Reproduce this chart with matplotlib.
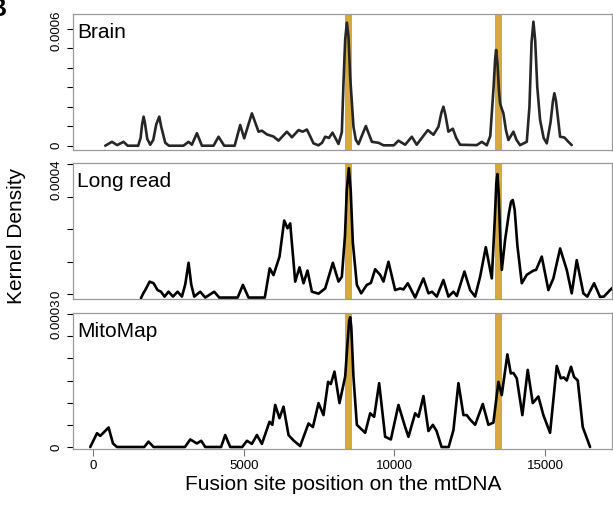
import matplotlib
matplotlib.use("Agg")
import matplotlib.pyplot as plt
import matplotlib.transforms as mtransforms
import numpy as np

plt.rcParams['font.family'] = ['Liberation Sans', 'DejaVu Sans']

# ---------------- data (density values in units of 1e-4) ----------------
brain_x = [408, 630, 800, 1015, 1150, 1500, 1580, 1630, 1679, 1730, 1800, 1900, 2000, 2100, 2199,
           2260, 2397, 2520, 3000, 3171, 3280, 3448, 3614, 4000, 4165, 4354, 4700, 4884, 5017,
           5272, 5492, 5604, 5770, 5989, 6155, 6433, 6599, 6818, 6960, 7096, 7200, 7316, 7480,
           7600, 7703, 7830, 7946, 8040, 8145, 8256, 8310, 8366, 8422, 8477, 8532, 8642, 8720,
           8808, 9052, 9252, 9471, 9640, 9980, 10134, 10356, 10578, 10740, 10860, 11108, 11294,
           11460, 11560, 11626, 11690, 11792, 11938, 12050, 12180, 12733, 12899, 13065, 13180,
           13290, 13340, 13374, 13420, 13470, 13506, 13560, 13616, 13700, 13782, 13948, 14050,
           14169, 14391, 14480, 14550, 14612, 14670, 14740, 14833, 14950, 15055, 15180, 15260,
           15308, 15360, 15497, 15640, 15772, 15883]
brain_y = [0, 0.2, 0.03, 0.2, 0, 0, 0.4, 1.1, 1.49, 1.1, 0.35, 0.05, 0.3, 1.1, 1.49,
           1.0, 0.15, 0, 0, 0.2, 0.05, 0.64, 0, 0, 0.46, 0, 0, 1.06, 0.38,
           1.66, 0.72, 0.77, 0.58, 0.47, 0.26, 0.72, 0.43, 0.8, 0.72, 0.83, 0.5, 0.12, 0.02,
           0.15, 0.46, 0.4, 0.67, 0.4, 0.09, 0.7, 3.2, 5.42, 6.31, 5.59, 3.54, 0.97, 0.3,
           0.08, 1.01, 0.2, 0.15, 0.02, 0.02, 0.26, 0.05, 0.46, 0.05, 0.3, 0.8, 0.56,
           0.97, 1.7, 2.0, 1.6, 0.72, 0.87, 0.4, 0.05, 0.03, 0.2, 0.02, 0.5,
           3.0, 4.4, 4.91, 4.2, 2.8, 2.17, 1.9, 1.66, 0.8, 0.29, 0.72, 0.3,
           0.03, 0.2, 2.0, 5.3, 6.36, 5.4, 3.0, 1.32, 0.4, 0.12, 1.2, 2.3,
           2.69, 2.3, 0.46, 0.42, 0.2, 0.03]

long_x = [1591, 1680, 1734, 1878, 2010, 2143, 2254, 2374, 2507, 2653, 2806, 2951, 3060, 3171,
          3260, 3359, 3558, 3724, 4022, 4188, 4800, 4974, 5160, 5700, 5863, 5989, 6188, 6344,
          6454, 6543, 6709, 6852, 6985, 7117, 7262, 7482, 7703, 7958, 8145, 8256, 8360, 8420,
          8488, 8550, 8620, 8754, 8897, 9086, 9220, 9361, 9527, 9637, 9803, 10024, 10190, 10300,
          10445, 10688, 10963, 11129, 11250, 11406, 11626, 11792, 11958, 12070, 12323, 12512,
          12678, 12843, 13032, 13231, 13330, 13380, 13417, 13460, 13520, 13563, 13672, 13800,
          13870, 13927, 13990, 14080, 14226, 14391, 14612, 14700, 14889, 15108, 15274, 15497,
          15718, 15883, 16049, 16269, 16400, 16624, 16823, 16950, 17154, 17232]
long_y = [-0.12, 0.05, 0.13, 0.39, 0.34, 0.13, 0.08, -0.07, 0.08, -0.07, 0.08, -0.07, 0.3, 0.97,
          0.3, -0.07, 0.08, -0.1, 0.08, -0.1, -0.1, 0.29, -0.1, -0.1, 0.8, 0.59, 1.16, 2.27,
          2.03, 2.18, 0.39, 0.83, 0.34, 0.73, 0.08, 0.02, 0.18, 0.97, 0.39, 0.54, 1.8, 3.2,
          3.88, 3.2, 1.6, 0.29, 0.03, 0.29, 0.35, 0.77, 0.6, 0.39, 1.0, 0.13, 0.18, 0.15,
          0.34, -0.1, 0.49, 0.03, 0.08, -0.07, 0.44, -0.07, 0.08, -0.05, 0.7, 0.13,
          -0.07, 0.54, 1.45, 0.49, 2.3, 3.4, 3.7, 3.1, 1.5, 0.75, 1.67, 2.5,
          2.85, 2.9, 2.6, 1.5, 0.34, 0.6, 0.73, 0.75, 1.16, 0.13, 0.49, 1.41,
          0.75, 0.03, 1.05, 0.03, -0.07, 0.34, -0.08, -0.07, 0.13, 0.2]

mito_x = [-90, 133, 242, 518, 663, 796, 1700, 1844, 2010, 3050, 3227, 3448, 3591, 3724, 4250,
          4387, 4553, 4950, 5107, 5272, 5438, 5604, 5856, 5950, 6045, 6188, 6321, 6487, 6650,
          6874, 7150, 7296, 7482, 7647, 7800, 7890, 8012, 8178, 8367, 8450, 8500, 8533, 8570,
          8640, 8754, 9030, 9196, 9328, 9494, 9693, 9882, 10134, 10356, 10466, 10688, 10800,
          10963, 11129, 11275, 11400, 11565, 11800, 11958, 12124, 12290, 12400, 12512, 12678,
          12932, 13119, 13284, 13450, 13561, 13748, 13861, 13948, 14059, 14245, 14423, 14590,
          14776, 14942, 15164, 15386, 15519, 15620, 15718, 15860, 15960, 16083, 16248, 16491]
mito_y = [0, 0.31, 0.25, 0.44, 0.08, 0, 0, 0.12, 0, 0, 0.17, 0.08, 0.14, 0, 0,
          0.27, 0, 0, 0.14, 0.07, 0.27, 0.07, 0.57, 0.5, 0.95, 0.65, 0.91, 0.27, 0.15,
          0.02, 0.53, 0.45, 0.99, 0.72, 1.47, 1.42, 1.7, 0.99, 1.59, 2.4, 2.85, 2.93, 2.7,
          1.6, 0.5, 0.32, 0.76, 0.68, 1.44, 0.23, 0.17, 0.95, 0.45, 0.23, 0.76, 0.68,
          1.15, 0.36, 0.5, 0.36, 0, 0, 0.38, 1.44, 0.72, 0.72, 0.62, 0.5,
          0.97, 0.5, 0.55, 1.47, 1.17, 2.09, 1.66, 1.67, 1.55, 0.72, 1.74, 0.99,
          1.14, 0.72, 0.32, 1.83, 1.55, 1.57, 1.5, 1.81, 1.58, 1.5, 0.45, 0]

panel_names = ["Brain", "Long read", "MitoMap"]
band_start = [8377, 13340]
band_end = [8587, 13560]
x_ticks = [0, 5000, 10000, 15000]
y_ticks = [[0, 1e-4, 2e-4, 3e-4, 4e-4, 5e-4, 6e-4],
           [0, 1e-4, 2e-4, 3e-4, 4e-4],
           [0, 0.5e-4, 1e-4, 1.5e-4, 2e-4, 2.5e-4, 3e-4]]
y_labeled = [["0", "", "", "", "", "", "0.0006"],
             ["0", "", "", "", "0.0004"],
             ["0", "", "", "", "", "", "0.0003"]]

# ---------------- figure ----------------
W, H = 613, 505
fig = plt.figure(figsize=(W / 100, H / 100), dpi=100)

boxes = [(14, 150), (163.3, 298.5), (312.7, 449.3)]
ylims = [(-0.22e-4, 6.754e-4), (-0.129e-4, 4.03e-4), (-0.052e-4, 3.03e-4)]
line_colors = ["#262626", "#000000", "#000000"]
label_shift_px = [2.5, 15, 5]
xs = [brain_x, long_x, mito_x]
ys = [brain_y, long_y, mito_y]

left_px, right_px = 73, 612.4
for i in range(3):
    top, bot = boxes[i]
    ax = fig.add_axes([left_px / W, 1 - bot / H, (right_px - left_px) / W, (bot - top) / H])
    for s, e in zip(band_start, band_end):
        ax.axvspan(s, e, color="#D4AA3E", lw=0, zorder=1)
    ax.plot(xs[i], np.array(ys[i]) * 1e-4, color=line_colors[i], lw=1.9,
            solid_joinstyle="round", solid_capstyle="round", zorder=3)
    ax.set_xlim(-663, 17232)
    ax.set_ylim(*ylims[i])
    for sp in ax.spines.values():
        sp.set_color("#9a9a9a")
        sp.set_linewidth(0.9)
    ax.set_yticks(y_ticks[i])
    ax.set_yticklabels(y_labeled[i], rotation=90, va="center", fontsize=9.5)
    ax.tick_params(axis="y", direction="out", length=4.5, width=0.8, color="black", pad=3)
    shift = mtransforms.ScaledTranslation(0, -label_shift_px[i] / 100, fig.dpi_scale_trans)
    lab = ax.get_yticklabels()[-1]
    lab.set_transform(lab.get_transform() + shift)
    if i == 2:
        ax.set_xticks(x_ticks)
        ax.set_xticklabels([str(t) for t in x_ticks], fontsize=9.5)
        ax.tick_params(axis="x", direction="out", length=5, width=0.8, color="#777777", pad=3)
        ax.set_xlabel("Fusion site position on the mtDNA", fontsize=15, labelpad=2)
    else:
        ax.set_xticks([])
    ax.text(0.007, 0.825, panel_names[i], transform=ax.transAxes, fontsize=15,
            ha="left", va="baseline")

fig.text(17 / W, 1 - 236 / H, "Kernel Density", rotation=90, fontsize=15,
         ha="center", va="center")
fig.text(-0.019, 1.005, "B", fontsize=18, fontweight="bold", ha="left", va="top")

fig.savefig("out.png", dpi=100)
